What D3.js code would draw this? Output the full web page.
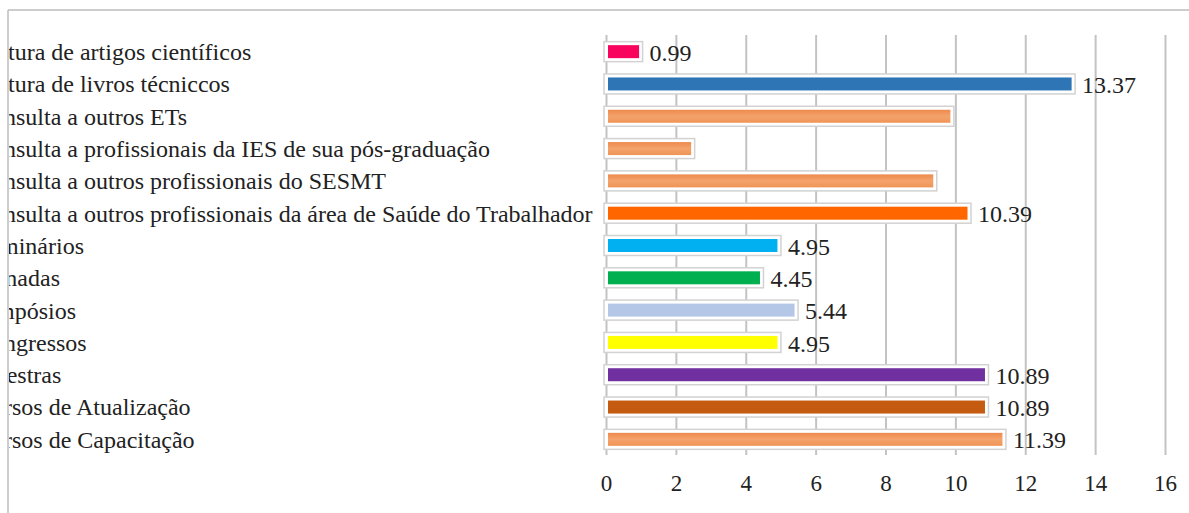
<!DOCTYPE html>
<html>
<head>
<meta charset="utf-8">
<script src="https://cdn.jsdelivr.net/npm/d3@7"></script>
<style>
  body { margin: 0; background: #fff; }
  svg { display: block; }
</style>
</head>
<body>
<div class="chart"></div>
<script>
// data
var categories = [
  "Leitura de artigos científicos",
  "Leitura de livros técniccos",
  "Consulta a outros ETs",
  "Consulta a profissionais da IES de sua pós-graduação",
  "Consulta a outros profissionais do SESMT",
  "Consulta a outros profissionais da área de Saúde do Trabalhador",
  "Seminários",
  "Jornadas",
  "Simpósios",
  "Congressos",
  "Palestras",
  "Cursos de Atualização",
  "Cursos de Capacitação"
];
var values = [0.99, 13.37, 9.90, 2.48, 9.41, 10.39, 4.95, 4.45, 5.44, 4.95, 10.89, 10.89, 11.39];
var valueLabels = ["0.99", "13.37", null, null, null, "10.39", "4.95", "4.45", "5.44", "4.95", "10.89", "10.89", "11.39"];
var barColors = ["#f8045f", "#2e75b6", "url(#lightOrange)", "url(#lightOrange)", "url(#lightOrange)", "#ff6600",
  "#00b0f0", "#00b050", "#b4c7e7", "#ffff00", "#7030a0", "#c55a11", "url(#lightOrange)"];
var xTicks = [0, 2, 4, 6, 8, 10, 12, 14, 16];

var svgWidth = 1189;
var svgHeight = 513;
var serif = "'Liberation Serif', 'Times New Roman', serif";

var svg = d3.select(".chart")
  .append("svg")
  .attr("width", svgWidth)
  .attr("height", svgHeight);

var defs = svg.append("defs");
var grad = defs.append("linearGradient")
  .attr("id", "lightOrange")
  .attr("x1", 0).attr("y1", 0).attr("x2", 0).attr("y2", 1);
grad.append("stop").attr("offset", "0%").attr("stop-color", "#ee8a4c");
grad.append("stop").attr("offset", "50%").attr("stop-color", "#f4a36c");
grad.append("stop").attr("offset", "100%").attr("stop-color", "#f09456");

// the labels run past the left edge of the frame, as in the original
defs.append("clipPath").attr("id", "frameClip")
  .append("rect")
  .attr("x", 9).attr("y", 0)
  .attr("width", svgWidth).attr("height", svgHeight);

// frame lines
svg.append("line")
  .attr("x1", 8).attr("x2", svgWidth)
  .attr("y1", 10).attr("y2", 10)
  .attr("stroke", "#bdbdbd").attr("stroke-width", 1.5);
svg.append("line")
  .attr("x1", 8).attr("x2", 8)
  .attr("y1", 10).attr("y2", svgHeight)
  .attr("stroke", "#bdbdbd").attr("stroke-width", 1.5);

// scales
var xScale = d3.scaleLinear().domain([0, 16]).range([606, 1165]);
var yScale = d3.scaleBand().domain(categories).range([35.5, 455.5]);

// gridlines
var grid = svg.append("g")
  .attr("transform", "translate(0, 455)")
  .call(d3.axisBottom(xScale).tickValues(xTicks).tickSize(-420).tickFormat(""));
grid.select(".domain").remove();
grid.selectAll("line").attr("stroke", "#c3c3c3").attr("stroke-width", 2);

// tick labels
var xAxis = svg.append("g")
  .attr("transform", "translate(0, 468)")
  .call(d3.axisBottom(xScale).tickValues(xTicks).tickSize(0).tickPadding(0));
xAxis.select(".domain").remove();
xAxis.selectAll("text")
  .attr("y", 23)
  .attr("dy", null)
  .attr("font-family", serif)
  .attr("font-size", 23)
  .attr("fill", "#222");

// category labels
svg.append("g")
  .attr("clip-path", "url(#frameClip)")
  .selectAll("text")
  .data(categories)
  .enter()
  .append("text")
  .attr("x", -24)
  .attr("y", d => yScale(d) + yScale.bandwidth() / 2)
  .attr("dy", "0.35em")
  .attr("font-family", serif)
  .attr("font-size", 24)
  .attr("fill", "#222")
  .text(d => d);

var rows = categories.map(function(c, i) {
  return { cat: c, value: values[i], label: valueLabels[i], color: barColors[i] };
});

// white boxes behind bars
svg.append("g").selectAll("rect")
  .data(rows)
  .enter()
  .append("rect")
  .attr("x", xScale(0) - 2)
  .attr("y", d => yScale(d.cat) + yScale.bandwidth() / 2 - 10)
  .attr("width", d => xScale(d.value) - xScale(0) + 4)
  .attr("height", 20)
  .attr("fill", "#fff")
  .attr("stroke", "#d2d2d2")
  .attr("stroke-width", 1.5);

// bars
svg.append("g").selectAll("rect")
  .data(rows)
  .enter()
  .append("rect")
  .attr("x", xScale(0) + 2)
  .attr("y", d => yScale(d.cat) + yScale.bandwidth() / 2 - 6.5)
  .attr("width", d => xScale(d.value) - xScale(0) - 3.5)
  .attr("height", 13)
  .attr("fill", d => d.color);

// value labels
svg.append("g").selectAll("text")
  .data(rows.filter(d => d.label !== null))
  .enter()
  .append("text")
  .attr("x", d => xScale(d.value) + 9)
  .attr("y", d => yScale(d.cat) + yScale.bandwidth() / 2)
  .attr("dy", "0.38em")
  .attr("font-family", serif)
  .attr("font-size", 24)
  .attr("fill", "#222")
  .text(d => d.label);
</script>
</body>
</html>
